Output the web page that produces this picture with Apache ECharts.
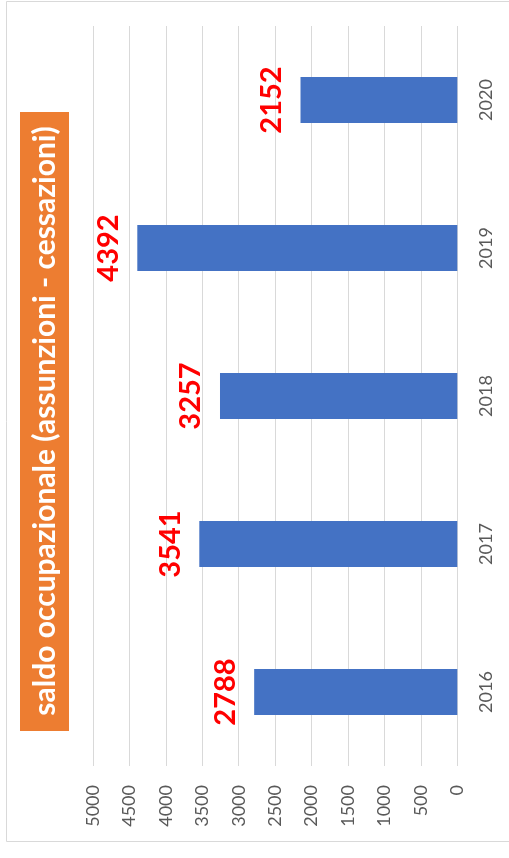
<!DOCTYPE html>
<html><head><meta charset="utf-8">
<script src="https://cdn.jsdelivr.net/npm/echarts@6/dist/echarts.min.js"></script>
<style>html,body{margin:0;padding:0;background:#fff}#c{width:509px;height:858px}</style>
</head><body><div id="c"></div>
<script>
const categories = ['2016', '2017', '2018', '2019', '2020'];
const values = [2788, 3541, 3257, 4392, 2152];
const titleText = 'saldo occupazionale (assunzioni - cessazioni)';

const chart = echarts.init(document.getElementById('c'), null, {renderer: 'canvas'});
chart.setOption({
  animation: false,
  backgroundColor: '#fff',
  grid: {left: 93, right: 51.7, top: 26, bottom: 92},
  xAxis: {
    type: 'value', min: 0, max: 5000, interval: 500, inverse: true,
    axisLine: {show: false}, axisTick: {show: false},
    splitLine: {lineStyle: {color: '#d9d9d9', width: 1}},
    axisLabel: {rotate: 90, color: '#595959', fontSize: 18, fontFamily: 'Lato', margin: 19,
      formatter: function (v) { return String(v); }}
  },
  yAxis: {
    type: 'category', data: categories, position: 'right',
    axisLine: {show: false}, axisTick: {show: false},
    axisLabel: {rotate: 90, color: '#595959', fontSize: 18, fontFamily: 'Lato', margin: 20}
  },
  series: [{
    type: 'bar', data: values, barWidth: 46,
    itemStyle: {color: '#4472c4'},
    label: {
      show: true, position: 'left', distance: 29, rotate: 90,
      align: 'center', verticalAlign: 'middle',
      color: '#ff0000', fontSize: 29, fontWeight: 'bold', fontFamily: 'Lato'
    }
  }],
  graphic: [
    {type: 'rect', z: -1, shape: {x: 6.5, y: 1.5, width: 520, height: 840}, style: {fill: 'none', stroke: '#d9d9d9', lineWidth: 1}},
    {type: 'rect', z: 10, shape: {x: 20, y: 112, width: 49, height: 619}, style: {fill: '#ed7d31'}},
    {type: 'text', z: 11, x: 45, y: 421, rotation: Math.PI / 2,
     style: {text: titleText, fill: '#ffffff', font: 'bold 30px Lato', align: 'center', verticalAlign: 'middle'}}
  ]
});
</script></body></html>
